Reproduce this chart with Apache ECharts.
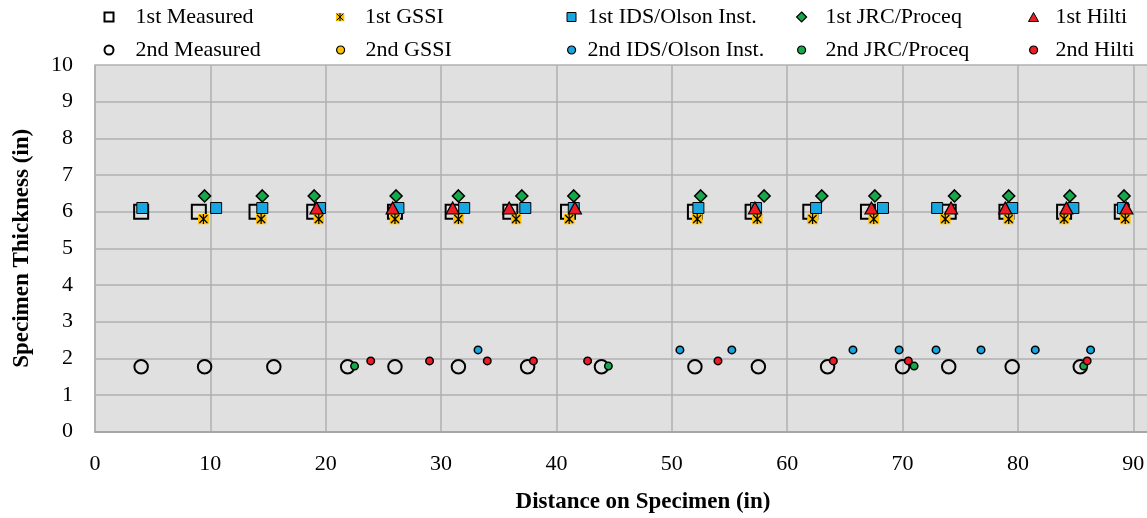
<!DOCTYPE html>
<html><head><meta charset="utf-8">
<script src="https://cdn.jsdelivr.net/npm/echarts@6/dist/echarts.min.js"></script>
<style>html,body{margin:0;padding:0;background:#fff}#c{width:1147px;height:518px}</style>
</head><body><div id="c"></div>
<script>
// ---- data ----
const measured1st = [[4.0,6.0],[9.0,6.0],[14.0,6.0],[19.0,6.0],[26.0,6.0],[31.0,6.0],[36.0,6.0],[41.0,6.0],[52.0,6.0],[57.0,6.0],[62.0,6.0],[67.0,6.0],[74.0,6.0],[79.0,6.0],[84.0,6.0],[89.0,6.0]];
const gssi1st = [[9.4,5.8],[14.4,5.8],[19.4,5.8],[26.0,5.8],[31.5,5.8],[36.5,5.8],[41.1,5.8],[52.2,5.8],[57.4,5.8],[62.2,5.8],[67.5,5.8],[73.7,5.8],[79.2,5.8],[84.0,5.8],[89.3,5.8]];
const ids1st = [[4.1,6.1],[10.5,6.1],[14.5,6.1],[19.5,6.1],[26.3,6.1],[32.0,6.1],[37.3,6.1],[41.5,6.1],[52.3,6.1],[57.3,6.1],[62.5,6.1],[68.3,6.1],[73.0,6.1],[79.5,6.1],[84.8,6.1],[89.1,6.1]];
const jrc1st = [[9.5,6.43],[14.5,6.43],[19.0,6.43],[26.1,6.43],[31.5,6.43],[37.0,6.43],[41.5,6.43],[52.5,6.43],[58.0,6.43],[63.0,6.43],[67.6,6.43],[74.5,6.43],[79.2,6.43],[84.5,6.43],[89.2,6.43]];
const hilti1st = [[19.2,6.1],[25.8,6.1],[31.0,6.1],[35.9,6.1],[41.6,6.1],[57.2,6.1],[67.3,6.1],[74.2,6.1],[78.9,6.1],[84.2,6.1],[89.4,6.1]];
const measured2nd = [[4.0,1.77],[9.5,1.77],[15.5,1.77],[21.9,1.77],[26.0,1.77],[31.5,1.77],[37.5,1.77],[43.9,1.77],[52.0,1.77],[57.5,1.77],[63.5,1.77],[70.0,1.77],[74.0,1.77],[79.5,1.77],[85.4,1.77],[91.9,1.77]];
const gssi2nd = [];
const ids2nd = [[33.2,2.23],[50.7,2.23],[55.2,2.23],[65.7,2.23],[69.7,2.23],[72.9,2.23],[76.8,2.23],[81.5,2.23],[86.3,2.23]];
const jrc2nd = [[22.5,1.79],[44.5,1.79],[71.0,1.79],[85.7,1.79]];
const hilti2nd = [[23.9,1.93],[29.0,1.93],[34.0,1.93],[38.0,1.93],[42.7,1.93],[54.0,1.93],[64.0,1.93],[70.5,1.93],[86.0,1.93]];

const xAxisTitle = 'Distance on Specimen (in)';
const yAxisTitle = 'Specimen Thickness (in)';

// ---- styling ----
const FONT = 'Liberation Serif';
const ORANGE = '#FFC000', BLUE = '#17A6DF', GREEN = '#16A84A', RED = '#EE1C25';
const gssiSvg = "<svg xmlns='http://www.w3.org/2000/svg' width='22' height='22' viewBox='0 0 22 22'><rect x='0' y='0' width='22' height='22' fill='" + ORANGE + "'/><path d='M3 3L19 19M19 3L3 19M11 1L11 21' stroke='#000' stroke-width='2.4' fill='none'/></svg>";
const gssiSymbol = 'image://data:image/svg+xml;charset=utf-8,' + encodeURIComponent(gssiSvg);

const seriesDefs = [
  {name:'1st Measured', data:measured1st, symbol:'rect', size:14, color:'rgba(0,0,0,0)', bw:2, lbw:2},
  {name:'1st GSSI', data:gssi1st, symbol:gssiSymbol, size:11, color:ORANGE, bw:0, lbw:0},
  {name:'1st IDS/Olson Inst.', data:ids1st, symbol:'rect', size:11, color:BLUE, bw:1, lbw:1},
  {name:'1st JRC/Proceq', data:jrc1st, symbol:'diamond', size:12, color:GREEN, bw:1.5, lbw:1.2},
  {name:'1st Hilti', data:hilti1st, symbol:'triangle', size:[13,12], color:RED, bw:1.2, lbw:1},
  {name:'2nd Measured', data:measured2nd, symbol:'circle', size:13.5, color:'rgba(0,0,0,0)', bw:2, lbw:2},
  {name:'2nd GSSI', data:gssi2nd, symbol:'circle', size:7.5, color:ORANGE, bw:1.5, lbw:1.2},
  {name:'2nd IDS/Olson Inst.', data:ids2nd, symbol:'circle', size:7.5, color:BLUE, bw:1.5, lbw:1.2},
  {name:'2nd JRC/Proceq', data:jrc2nd, symbol:'circle', size:7.5, color:GREEN, bw:1.5, lbw:1.2},
  {name:'2nd Hilti', data:hilti2nd, symbol:'circle', size:7.5, color:RED, bw:1.5, lbw:1.2}
];

// legend layout: 5 columns x 2 rows
const colIconCenter = [108, 340, 571, 801, 1033];
const colTextStart = [134.6, 365, 587, 825, 1055];
const rowCenter = [17, 50];
const legendIconSize = [[9,9],[9,9],[9,9],[10,10],[10,9],[9,9],[8,8],[8,8],[8,8],[8,8]];

const legends = seriesDefs.map((s, i) => {
  const col = i % 5, row = Math.floor(i / 5);
  const [iw, ih] = legendIconSize[i];
  const iconLeft = colIconCenter[col] - iw / 2;
  const pad = colTextStart[col] - (iconLeft + iw) - 5;
  return {
    data: [s.name], left: iconLeft, top: rowCenter[row] - 11, orient: 'horizontal',
    padding: 0, itemGap: 0, itemWidth: iw, itemHeight: ih, selectedMode: false,
    itemStyle: {borderWidth: s.lbw, borderColor: '#000'},
    textStyle: {fontFamily: FONT, fontSize: 22, lineHeight: 22, color: '#000', padding: [0, 0, 0, pad]}
  };
});

const series = seriesDefs.map(s => ({
  name: s.name, type: 'scatter', data: s.data, symbol: s.symbol, symbolSize: s.size,
  itemStyle: {color: s.color, borderColor: '#000', borderWidth: s.bw, opacity: 1},
  emphasis: {disabled: true}, animation: false
}));

const chart = echarts.init(document.getElementById('c'), null, {renderer: 'canvas'});
chart.setOption({
  animation: false,
  backgroundColor: '#fff',
  legend: legends,
  grid: {left: 95, top: 65, bottom: 86.3, right: -44, outerBoundsMode: 'none', show: true, backgroundColor: '#e0e0e0', borderWidth: 0, containLabel: false},
  xAxis: {
    type: 'value', min: 0, max: 95, interval: 10,
    name: xAxisTitle, nameLocation: 'middle', nameGap: 59,
    nameTextStyle: {fontFamily: FONT, fontSize: 23, fontWeight: 'bold', color: '#000'},
    axisLine: {show: true, lineStyle: {color: '#a6a6a6', width: 2}},
    axisTick: {show: false},
    axisLabel: {fontFamily: FONT, fontSize: 22, color: '#000', margin: 22, showMaxLabel: false},
    splitLine: {show: true, lineStyle: {color: '#b0b0b0', width: 1.5}}
  },
  yAxis: {
    type: 'value', min: 0, max: 10, interval: 1,
    name: yAxisTitle, nameLocation: 'middle', nameGap: 61, nameRotate: 90,
    nameTextStyle: {fontFamily: FONT, fontSize: 23, fontWeight: 'bold', color: '#000'},
    axisLine: {show: true, lineStyle: {color: '#b0b0b0', width: 1.5}},
    axisTick: {show: false},
    axisLabel: {fontFamily: FONT, fontSize: 22, color: '#000', margin: 22},
    splitLine: {show: true, lineStyle: {color: '#b0b0b0', width: 1.5}}
  },
  series: series
});
</script>
</body></html>
